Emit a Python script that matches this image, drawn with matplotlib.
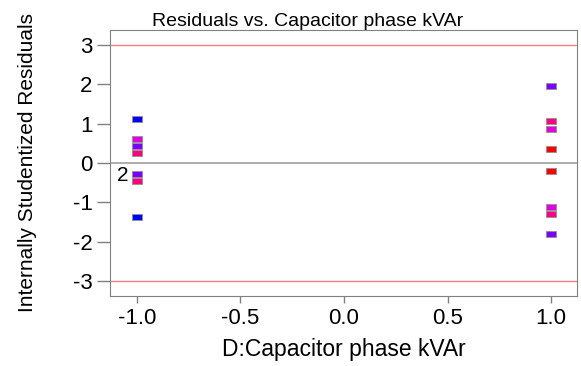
import numpy as np
import matplotlib.pyplot as plt
from matplotlib.path import Path

# run data: factor level, residual, color
x_vals = [-1, -1, -1, -1, -1, -1, -1,
          1, 1, 1, 1, 1, 1, 1, 1]
resid = [1.13, 0.62, 0.44, 0.26, -0.27, -0.46, -1.36,
         1.96, 1.06, 0.86, 0.35, -0.21, -1.11, -1.30, -1.81]
colors = ['#0000ff', '#e000e0', '#7a00ff', '#ff0080', '#7a00ff', '#ff0080', '#0000ff',
          '#7a00ff', '#ff0080', '#e000e0', '#ff0000', '#ff0000', '#e000e0', '#ff0080', '#7a00ff']

xticks = [-1.0, -0.5, 0.0, 0.5, 1.0]
xticklabels = ['-1.0', '-0.5', '0.0', '0.5', '1.0']
yticks = [-3, -2, -1, 0, 1, 2, 3]
yticklabels = ['-3', '-2', '-1', '0', '1', '2', '3']

plt.rcParams['font.family'] = ['Liberation Sans', 'DejaVu Sans']

fig = plt.figure(figsize=(5.81, 3.66), dpi=100)
ax = fig.add_axes([110 / 581, 70 / 366, 467 / 581, 266 / 366])

rect = Path([(-1, -0.6), (1, -0.6), (1, 0.6), (-1, 0.6), (-1, -0.6)],
            [Path.MOVETO, Path.LINETO, Path.LINETO, Path.LINETO, Path.CLOSEPOLY])

ax.axhline(3, color='#f08080', lw=1)
ax.axhline(-3, color='#f08080', lw=1)
ax.axhline(0, color='#a0a0a0', lw=1.2)

for x, r, c in zip(x_vals, resid, colors):
    ax.plot(x, r, marker=rect, markersize=7.5, color=c,
            markeredgecolor='#909090', markeredgewidth=0.6, linestyle='none')

ax.text(-1.068, -0.33, '2', fontsize=15, ha='center', va='center')

ax.set_xlim(-1.13, 1.125)
ax.set_ylim(-3.38, 3.38)
ax.set_xticks(xticks)
ax.set_xticklabels(xticklabels)
ax.set_yticks(yticks)
ax.set_yticklabels(yticklabels)
ax.tick_params(axis='both', direction='out', width=1, color='#808080', labelsize=16)
ax.tick_params(axis='y', length=9.5, pad=3)
ax.tick_params(axis='x', length=5, pad=4)
for s in ax.spines.values():
    s.set_color('#808080')

ax.set_title('Residuals vs. Capacitor phase kVAr', fontsize=14, pad=2, x=0.424)
ax.set_xlabel('D:Capacitor phase kVAr', fontsize=16.5, labelpad=6)
ax.set_ylabel('Internally Studentized Residuals', fontsize=15, labelpad=26)

fig.savefig('out.png', dpi=100)
